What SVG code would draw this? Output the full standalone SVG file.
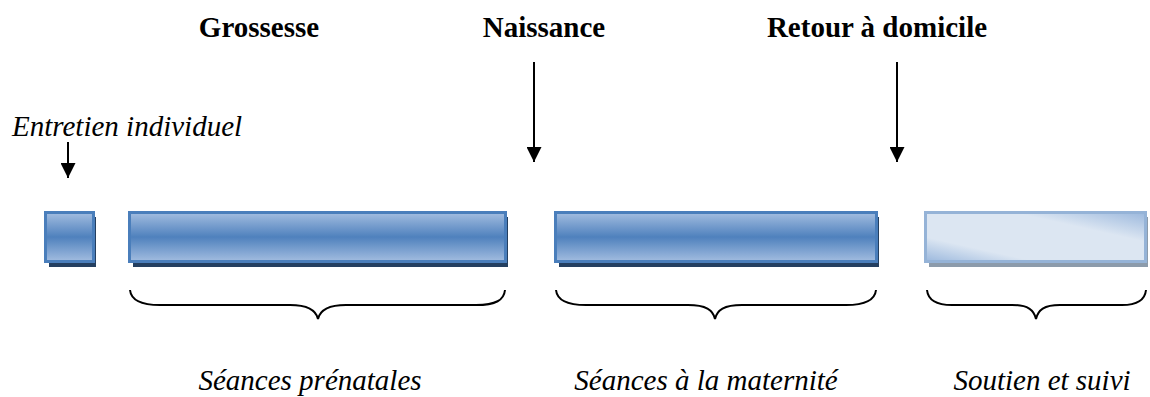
<svg xmlns="http://www.w3.org/2000/svg" width="1150" height="397" viewBox="0 0 1150 397">
<defs>
<linearGradient id="blue" x1="0" y1="0" x2="0" y2="1">
<stop offset="0" stop-color="#a3bde0"/>
<stop offset="0.5" stop-color="#4f81bd"/>
<stop offset="1" stop-color="#a3bde0"/>
</linearGradient>
<linearGradient id="light" x1="0" y1="1" x2="1" y2="0">
<stop offset="0" stop-color="#9bb8dd"/>
<stop offset="0.25" stop-color="#dce6f2"/>
<stop offset="0.7" stop-color="#dce6f2"/>
<stop offset="1" stop-color="#9bb8dd"/>
</linearGradient>
<marker id="ah" viewBox="0 0 10 10" refX="10" refY="5" markerWidth="15" markerHeight="15" markerUnits="userSpaceOnUse" orient="auto">
<path d="M0,0 L10,5 L0,10 Z" fill="#000"/>
</marker>
</defs>
<style>
.t{font-family:"Liberation Serif","Times New Roman",serif;font-size:29px;fill:#000}
.b{font-weight:bold}
.i{font-style:italic}
.bar{fill:url(#blue);stroke:#4a7ebb;stroke-width:3}
.barl{fill:url(#light);stroke:#95b3d7;stroke-width:3}
.sh{fill:#243f60}
.shl{fill:#8c9bab}
.ar{stroke:#000;stroke-width:2;fill:none;marker-end:url(#ah)}
.br{stroke:#000;stroke-width:2;fill:none}
</style>
<g id="title-grossesse"><text class="t b" x="259" y="37" text-anchor="middle">Grossesse</text></g>
<g id="title-naissance"><text class="t b" x="544" y="37" text-anchor="middle">Naissance</text></g>
<g id="title-retour"><text class="t b" x="877" y="37" text-anchor="middle">Retour à domicile</text></g>
<g id="label-entretien"><text class="t i" x="12" y="136">Entretien individuel</text></g>
<g id="bar-entretien">
<rect class="sh" x="49" y="217" width="47" height="50"/>
<rect class="bar" x="45.5" y="212.5" width="48" height="49"/>
</g>
<g id="bar-prenatal">
<rect class="sh" x="133" y="217" width="375" height="50"/>
<rect class="bar" x="129.5" y="212.5" width="376" height="49"/>
</g>
<g id="bar-maternite">
<rect class="sh" x="559" y="217" width="320" height="50"/>
<rect class="bar" x="555.5" y="212.5" width="321" height="49"/>
</g>
<g id="bar-suivi">
<rect class="shl" x="929" y="217" width="219" height="50"/>
<rect class="barl" x="925.5" y="212.5" width="220" height="49"/>
</g>
<g id="connectors">
<line class="ar" x1="534" y1="62" x2="534" y2="162"/>
<line class="ar" x1="897" y1="62" x2="897" y2="162"/>
<line class="ar" x1="68" y1="142" x2="68" y2="178"/>
<path class="br" d="M130,290 C131,300 140,305 160,305 L290,305 C308,305 316,310 318,319 C320,310 328,305 346,305 L476,305 C496,305 504,300 505,290"/>
<path class="br" d="M556,290 C557,300 566,305 586,305 L688,305 C706,305 713,310 715,319 C717,310 724,305 742,305 L846,305 C866,305 875,300 876,290"/>
<path class="br" d="M927,290 C928,300 936,305 952,305 L1012,305 C1028,305 1034,310 1036,319 C1038,310 1044,305 1060,305 L1122,305 C1138,305 1145,300 1146,290"/>
</g>
<g id="label-prenatal"><text class="t i" x="310" y="390" text-anchor="middle">Séances prénatales</text></g>
<g id="label-maternite"><text class="t i" x="706" y="390" text-anchor="middle">Séances à la maternité</text></g>
<g id="label-suivi"><text class="t i" x="1042" y="390" text-anchor="middle">Soutien et suivi</text></g>
</svg>
